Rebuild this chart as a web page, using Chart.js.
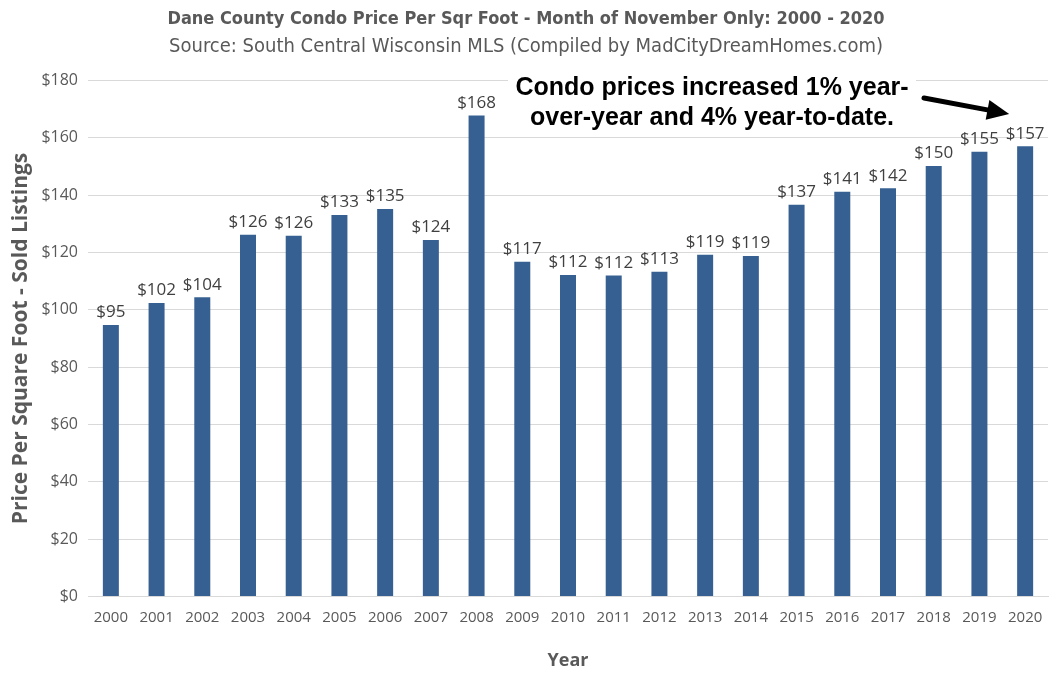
<!DOCTYPE html>
<html>
<head>
<meta charset="utf-8">
<script src="https://cdn.jsdelivr.net/npm/chart.js@4.4.1/dist/chart.umd.min.js"></script>
<style>
  html, body { margin: 0; padding: 0; background: #fff; }
  #wrap { width: 1059px; height: 676px; }
</style>
</head>
<body>
<div id="wrap"><canvas id="myChart"></canvas></div>
<script>
const years = ['2000','2001','2002','2003','2004','2005','2006','2007','2008','2009','2010',
               '2011','2012','2013','2014','2015','2016','2017','2018','2019','2020'];
const pricePerSqft = [94.7, 102.4, 104.4, 126.2, 125.9, 133.1, 135.2, 124.4, 167.8, 116.8, 112.2,
                      112.0, 113.3, 119.2, 118.8, 136.7, 141.2, 142.4, 150.2, 155.2, 157.1];
const yTicks = [0, 20, 40, 60, 80, 100, 120, 140, 160, 180];
const noteLines = ['Condo prices increased 1% year-', 'over-year and 4% year-to-date.'];

const BAR_COLOR = 'rgb(54, 96, 146)';
const GREY = '#595959';

// etiquetas $ encima de cada barra
const valueLabels = {
    id: 'valueLabels',
    afterDatasetsDraw(chart) {
        const ctx = chart.ctx;
        const meta = chart.getDatasetMeta(0);
        ctx.save();
        ctx.font = '17px "Open Sans", sans-serif';
        ctx.fillStyle = '#404040';
        ctx.textAlign = 'center';
        ctx.textBaseline = 'bottom';
        meta.data.forEach((bar, i) => {
            ctx.fillText('$' + Math.round(pricePerSqft[i]), bar.x, bar.y - 4);
        });
        ctx.restore();
    }
};

// nota con flecha hacia 2020
const noteArrow = {
    id: 'noteArrow',
    afterDraw(chart) {
        const ctx = chart.ctx;
        const meta = chart.getDatasetMeta(0);
        const last = meta.data[meta.data.length - 1];
        ctx.save();
        ctx.font = 'bold 25px "Liberation Sans", Arial, sans-serif';
        ctx.textAlign = 'center';
        ctx.textBaseline = 'middle';
        const cx = 712;
        ctx.fillStyle = '#fff';
        ctx.fillRect(508, 74, 408, 60);
        ctx.fillStyle = '#000';
        ctx.fillText(noteLines[0], cx, 88);
        ctx.fillText(noteLines[1], cx, 118);

        // flecha
        const x1 = 924, y1 = 98;
        const x2 = last.x - 16, y2 = 114;
        const ang = Math.atan2(y2 - y1, x2 - x1);
        ctx.strokeStyle = '#000';
        ctx.lineWidth = 5;
        ctx.lineCap = 'round';
        ctx.beginPath();
        ctx.moveTo(x1, y1);
        ctx.lineTo(x2 - 14 * Math.cos(ang), y2 - 14 * Math.sin(ang));
        ctx.stroke();
        ctx.beginPath();
        ctx.moveTo(x2, y2);
        ctx.lineTo(x2 - 22 * Math.cos(ang) + 10 * Math.sin(ang), y2 - 22 * Math.sin(ang) - 10 * Math.cos(ang));
        ctx.lineTo(x2 - 22 * Math.cos(ang) - 10 * Math.sin(ang), y2 - 22 * Math.sin(ang) + 10 * Math.cos(ang));
        ctx.closePath();
        ctx.fillStyle = '#000';
        ctx.fill();
        ctx.restore();
    }
};

const ctxChart = document.getElementById('myChart').getContext('2d');

let condoChart = new Chart(ctxChart, {
    type: 'bar',
    data: {
        labels: years,
        datasets: [{
            label: 'Price Per Square Foot',
            data: pricePerSqft,
            backgroundColor: BAR_COLOR,
            barPercentage: 0.35,
            categoryPercentage: 1.0
        }]
    },
    options: {
        responsive: true,
        maintainAspectRatio: false,
        animation: false,
        layout: {
            padding: { left: 4, right: 11, top: 0, bottom: 2 }
        },
        plugins: {
            legend: { display: false },
            tooltip: { enabled: false },
            title: {
                display: true,
                text: 'Dane County Condo Price Per Sqr Foot - Month of November Only: 2000 - 2020',
                color: GREY,
                font: { family: '"Liberation Sans Narrow", "DejaVu Sans Condensed", sans-serif', size: 18, weight: 'bold' },
                padding: { top: 9, bottom: 4 }
            },
            subtitle: {
                display: true,
                text: 'Source: South Central Wisconsin MLS (Compiled by MadCityDreamHomes.com)',
                color: GREY,
                font: { family: '"Liberation Sans Narrow", "DejaVu Sans Condensed", sans-serif', size: 20 },
                padding: { bottom: 22 }
            }
        },
        scales: {
            x: {
                grid: { display: false, drawTicks: false },
                border: { color: '#d9d9d9' },
                ticks: {
                    color: GREY,
                    font: { family: '"Open Sans", sans-serif', size: 15 },
                    padding: 12,
                    maxRotation: 0,
                    autoSkip: false
                },
                title: {
                    display: true,
                    text: 'Year',
                    color: GREY,
                    font: { family: '"Open Sans", sans-serif', size: 18, weight: 'bold' },
                    padding: { top: 12, bottom: 2 }
                }
            },
            y: {
                min: 0,
                max: 180,
                afterBuildTicks: (scale) => { scale.ticks = yTicks.map(v => ({ value: v })); },
                afterFit: (scale) => { scale.width = 84; },
                grid: { color: '#d9d9d9', drawTicks: false },
                border: { display: false },
                ticks: {
                    color: GREY,
                    font: { family: '"Open Sans", sans-serif', size: 16 },
                    padding: 10,
                    callback: (v) => '$' + v
                },
                title: {
                    display: true,
                    text: 'Price Per Square Foot - Sold Listings',
                    color: GREY,
                    font: { family: '"Open Sans", sans-serif', size: 21, weight: 'bold' },
                    padding: { bottom: 6 }
                }
            }
        }
    },
    plugins: [valueLabels, noteArrow]
});
</script>
</body>
</html>
